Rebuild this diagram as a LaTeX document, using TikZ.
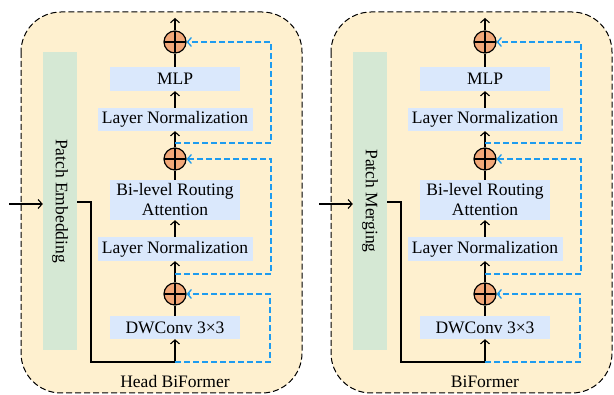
\documentclass[tikz,border=0pt]{standalone}
\usepackage{fontspec}
\setmainfont{Liberation Serif}
\usetikzlibrary{arrows.meta}
\definecolor{framefill}{HTML}{FEF0CF}
\definecolor{boxfill}{HTML}{DAE8FC}
\definecolor{barfill}{HTML}{D5E8D4}
\definecolor{plusfill}{HTML}{F2A878}
\definecolor{skipblue}{HTML}{1E9CEF}
\tikzset{
  frame/.style={draw=black, fill=framefill, line width=1pt, dash pattern=on 6pt off 3pt, rounded corners=40pt},
  boxnode/.style={fill=boxfill, inner sep=0pt, minimum height=24pt, font=\fontsize{17.5}{20}\selectfont, align=center},
  barnode/.style={fill=barfill, inner sep=0pt, minimum width=34pt, minimum height=298pt},
  bartext/.style={rotate=-90, inner sep=0pt, font=\fontsize{17.5}{20}\selectfont},
  plusnode/.style={circle, draw=black, line width=1.2pt, fill=plusfill, minimum size=22pt, inner sep=0pt,
    path picture={\draw[line width=1.2pt] (path picture bounding box.north) -- (path picture bounding box.south)
      (path picture bounding box.west) -- (path picture bounding box.east);}},
  mainline/.style={draw=black, line width=1.3pt},
  arr/.style={mainline, -{Straight Barb[length=4pt,width=9pt,line width=1.1pt]}},
  skipline/.style={draw=skipblue, line width=1.6pt, dash pattern=on 6pt off 3pt, -{Straight Barb[length=4pt,width=9pt,line width=1.3pt]}},
  labelnode/.style={inner sep=0pt, font=\fontsize{17.5}{20}\selectfont}
}
\newcommand\bfblock[4]{%
\begin{scope}[xshift=#2]
  \draw[frame] (-154,12) rectangle (127,393);
  \node[barnode] (#1bar) at (-115,201) {};
  \node[bartext] (#1bartext) at (#1bar.center) {#3};
  \node[boxnode, minimum width=130pt, minimum height=23pt] (#1dw) at (0,327.5) {DWConv 3×3};
  \node[plusnode] (#1c1) at (0,294) {};
  \node[boxnode, minimum width=155pt] (#1ln1) at (0,249) {Layer Normalization};
  \node[boxnode, minimum width=130pt, minimum height=40pt] (#1bra) at (0,200) {Bi-level Routing\\Attention};
  \node[plusnode] (#1c2) at (0,159) {};
  \node[boxnode, minimum width=155pt, minimum height=23pt] (#1ln2) at (0,119.5) {Layer Normalization};
  \node[boxnode, minimum width=130pt] (#1mlp) at (0,79) {MLP};
  \node[plusnode] (#1c3) at (0,42) {};
  \coordinate (#1out) at (0,18);
  \node[labelnode] (#1label) at (0,382) {#4};
  % input
  \coordinate (#1in) at (-166,204);
  \draw[arr] (#1in) -- (#1in -| #1bar.west);
  % bar output to DWConv
  \coordinate (#1o1) at (-84,202);
  \coordinate (#1o2) at (-84,362);
  \coordinate (#1s1) at (0,362);
  \draw[mainline] (#1bar.east |- #1o1) -- (#1o1) -- (#1o2) -- (#1s1);
  \draw[arr] (#1s1) -- (#1dw.south);
  % main column
  \draw[mainline] (#1dw.north) -- (#1c1.south);
  \draw[arr] (#1c1.north) -- (#1ln1.south);
  \draw[arr] (#1ln1.north) -- (#1bra.south);
  \draw[mainline] (#1bra.north) -- (#1c2.south);
  \draw[arr] (#1c2.north) -- (#1ln2.south);
  \draw[arr] (#1ln2.north) -- (#1mlp.south);
  \draw[mainline] (#1mlp.north) -- (#1c3.south);
  \draw[arr] (#1c3.north) -- (#1out);
  % skip connections
  \coordinate (#1r1) at (95,362);
  \draw[skipline] (#1s1) -- (#1r1) |- (#1c1.east);
  \coordinate (#1s2) at (0,274);
  \coordinate (#1r2) at (96,274);
  \draw[skipline] (#1s2) -- (#1r2) |- (#1c2.east);
  \coordinate (#1s3) at (0,143);
  \coordinate (#1r3) at (96,143);
  \draw[skipline] (#1s3) -- (#1r3) |- (#1c3.east);
\end{scope}}
\begin{document}
\begin{tikzpicture}[x=1pt,y=-1pt]
  \useasboundingbox (0,0) rectangle (614,395);
  \bfblock{L}{175pt}{Patch Embedding}{Head BiFormer}
  \bfblock{R}{485pt}{Patch Merging}{BiFormer}
\end{tikzpicture}
\end{document}
